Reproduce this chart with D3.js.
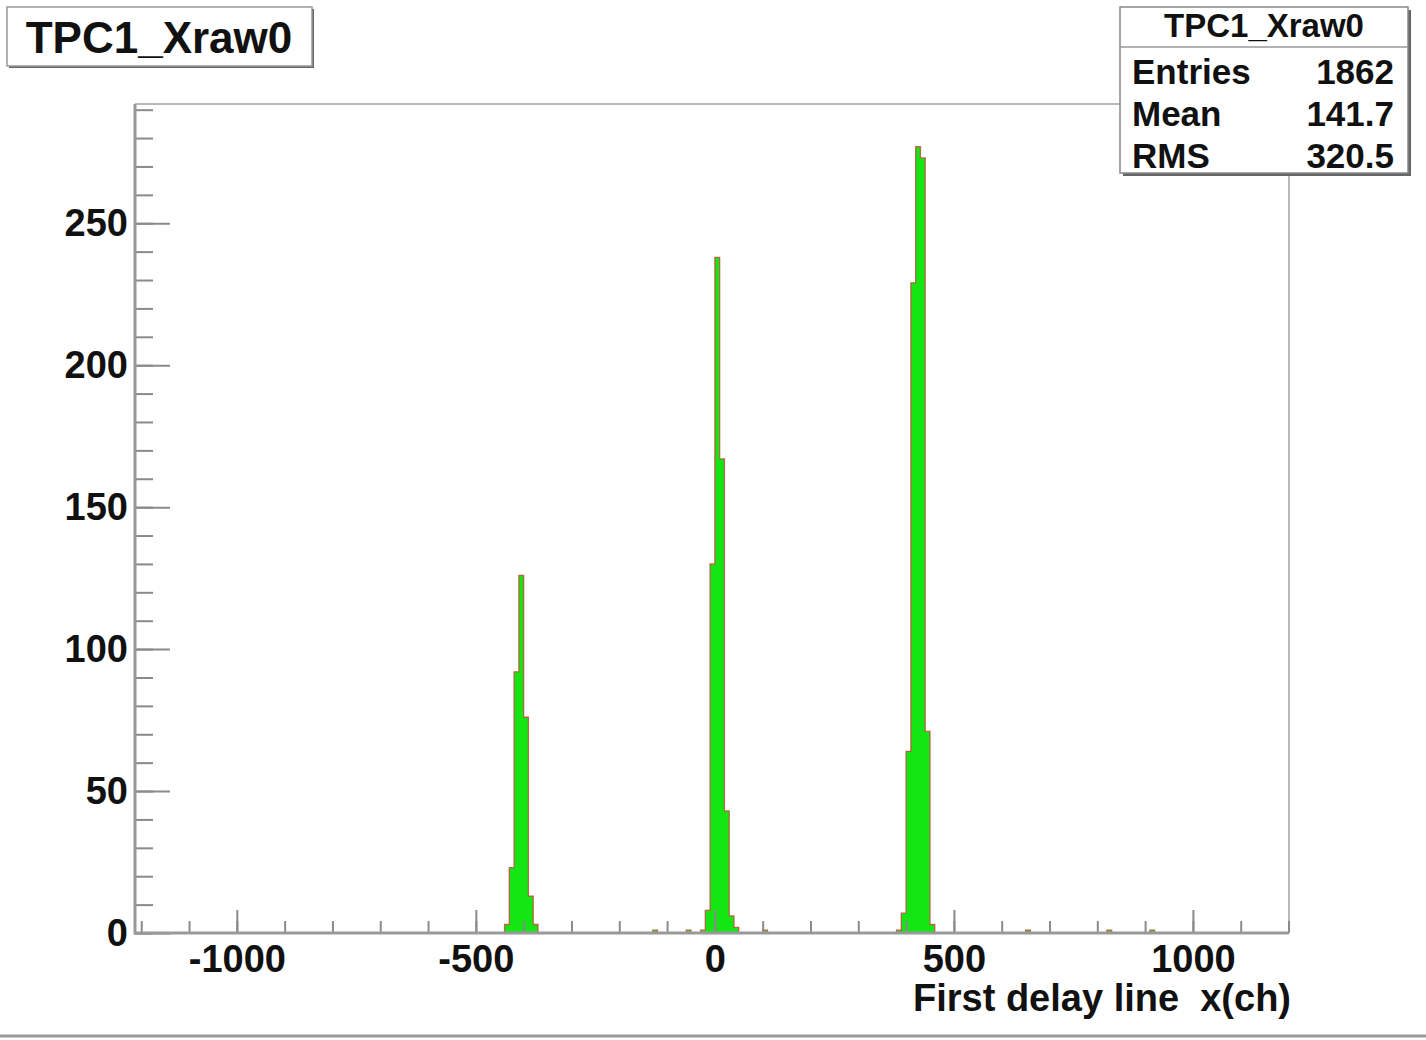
<!DOCTYPE html>
<html>
<head>
<meta charset="utf-8">
<script src="https://cdn.jsdelivr.net/npm/d3@7/dist/d3.min.js"></script>
<style>
  html, body { margin: 0; padding: 0; background: #fff; }
  svg { display: block; }
  text { font-family: "Liberation Sans", Arial, Helvetica, sans-serif; font-weight: bold; fill: #111; }
</style>
</head>
<body>
<svg id="chart" width="1426" height="1040"></svg>
<script>
// Histogram TPC1_Xraw0: fixed 10-channel bins, three delay-line peaks plus a few stray hits
const binWidth = 10;
const peak1Start = -440;
const peak1Counts = [3, 23, 92, 126, 76, 13, 3];
const peak2Start = -30;
const peak2Counts = [1, 8, 130, 238, 167, 43, 6, 2];
const peak3Start = 390;
const peak3Counts = [7, 64, 229, 277, 273, 71, 3];
const strayBinStarts = [-130, -60, 100, 380, 650, 820, 910];
const strayCounts = [1, 1, 1, 1, 1, 1, 1];

const xDomain = [-1213, 1201];
const yDomain = [0, 292];
const xMajorTicks = [-1000, -500, 0, 500, 1000];
const xMinorTicks = d3.range(-1200, 1201, 100);
const yMajorTicks = [0, 50, 100, 150, 200, 250];
const yMinorTicks = d3.range(0, 291, 10);

const histTitle = "TPC1_Xraw0";
const xTitle = "First delay line  x(ch)";
const statsLabels = ["Entries", "Mean", "RMS"];
const statsValues = ["1862", "141.7", "320.5"];

// ---- build bin list ----
function groupBins(start, counts) {
  return counts.map((c, i) => ({ x0: start + i * binWidth, x1: start + (i + 1) * binWidth, n: c }));
}
const groups = [
  groupBins(peak1Start, peak1Counts),
  groupBins(peak2Start, peak2Counts),
  groupBins(peak3Start, peak3Counts),
  ...strayBinStarts.map((s, i) => groupBins(s, [strayCounts[i]]))
];

const svg = d3.select("#chart");
const frame = { left: 135, right: 1289, top: 104, bottom: 933 };

const x = d3.scaleLinear().domain(xDomain).range([frame.left, frame.right]);
const y = d3.scaleLinear().domain(yDomain).range([frame.bottom, frame.top]);
const plainNumber = d => String(d);

svg.append("rect").attr("width", 1426).attr("height", 1040).attr("fill", "#fff");

// frame top / right
svg.append("path")
  .attr("d", `M${frame.left},${frame.top}H${frame.right}V${frame.bottom}`)
  .attr("fill", "none").attr("stroke", "#b8b8b8").attr("stroke-width", 2);

// histogram fill + outline
const stepLine = d3.line().curve(d3.curveStepAfter).x(d => d[0]).y(d => d[1]);
groups.forEach(g => {
  const last = g[g.length - 1];
  const pts = g.map(b => [x(b.x0), y(b.n)]);
  pts.push([x(last.x1), y(last.n)]);
  svg.append("path")
    .attr("d", d3.area().curve(d3.curveStepAfter).x(d => d[0]).y0(y(0)).y1(d => d[1])(pts))
    .attr("fill", "#14e614");
  svg.append("path")
    .attr("d", `M${x(g[0].x0)},${y(0)}` + stepLine(pts).replace(/^M/, "L") + `L${x(last.x1)},${y(0)}`)
    .attr("fill", "none").attr("stroke", "#c0503c").attr("stroke-width", 1.3).attr("stroke-opacity", 0.85);
});

// x axis
const xMinorAxis = d3.axisBottom(x).tickValues(xMinorTicks).tickSize(-12).tickFormat("");
const gxm = svg.append("g").attr("transform", `translate(0,${frame.bottom})`).call(xMinorAxis);
const xAxis = d3.axisBottom(x).tickValues(xMajorTicks).tickSize(-23).tickPadding(12).tickFormat(plainNumber);
const gx = svg.append("g").attr("transform", `translate(0,${frame.bottom})`).call(xAxis);
[gxm, gx].forEach(g => {
  g.select(".domain").remove();
  g.selectAll(".tick line").attr("stroke", "#8a8a8a").attr("stroke-width", 2);
});
gx.selectAll(".tick text").attr("font-size", 38).attr("fill", "#111")
  .attr("font-family", "Liberation Sans, Arial, sans-serif").attr("font-weight", "bold");

// y axis
const yMinorAxis = d3.axisLeft(y).tickValues(yMinorTicks).tickSize(-18).tickFormat("");
const gym = svg.append("g").attr("transform", `translate(${frame.left},0)`).call(yMinorAxis);
const yAxis = d3.axisLeft(y).tickValues(yMajorTicks).tickSize(-35).tickPadding(7).tickFormat(plainNumber);
const gy = svg.append("g").attr("transform", `translate(${frame.left},0)`).call(yAxis);
[gym, gy].forEach(g => {
  g.select(".domain").remove();
  g.selectAll(".tick line").attr("stroke", "#8a8a8a").attr("stroke-width", 2);
});
gy.selectAll(".tick text").attr("font-size", 38).attr("fill", "#111")
  .attr("font-family", "Liberation Sans, Arial, sans-serif").attr("font-weight", "bold");

// axis lines
svg.append("path")
  .attr("d", `M${frame.left},${frame.top}V${frame.bottom}H${frame.right}`)
  .attr("fill", "none").attr("stroke", "#999").attr("stroke-width", 3);

// axis title
svg.append("text")
  .attr("x", 1291).attr("y", 1011)
  .attr("text-anchor", "end").attr("font-size", 38)
  .style("white-space", "pre")
  .text(xTitle);

// title box
svg.append("rect").attr("x", 9).attr("y", 9).attr("width", 305).attr("height", 59).attr("fill", "#666");
svg.append("rect").attr("x", 7).attr("y", 7).attr("width", 305).attr("height", 59)
  .attr("fill", "#fff").attr("stroke", "#999").attr("stroke-width", 1.5);
svg.append("text").attr("x", 159).attr("y", 53).attr("text-anchor", "middle")
  .attr("font-size", 44).text(histTitle);

// statistics box
const sb = { x: 1120, y: 7, w: 288, h: 166 };
svg.append("rect").attr("x", sb.x + 3).attr("y", sb.y + 3).attr("width", sb.w).attr("height", sb.h).attr("fill", "#666");
svg.append("rect").attr("x", sb.x).attr("y", sb.y).attr("width", sb.w).attr("height", sb.h)
  .attr("fill", "#fff").attr("stroke", "#888").attr("stroke-width", 1.5);
svg.append("line").attr("x1", sb.x).attr("x2", sb.x + sb.w).attr("y1", 47).attr("y2", 47)
  .attr("stroke", "#999").attr("stroke-width", 1.5);
svg.append("text").attr("x", sb.x + sb.w / 2).attr("y", 37).attr("text-anchor", "middle")
  .attr("font-size", 33).text(histTitle);
statsLabels.forEach((lab, i) => {
  const by = 84 + i * 42;
  svg.append("text").attr("x", 1132).attr("y", by).attr("font-size", 35).text(lab);
  svg.append("text").attr("x", 1394).attr("y", by).attr("text-anchor", "end").attr("font-size", 35).text(statsValues[i]);
});

// canvas bottom edge
svg.append("line").attr("x1", 0).attr("x2", 1426).attr("y1", 1036).attr("y2", 1036)
  .attr("stroke", "#999").attr("stroke-width", 3);
</script>
</body>
</html>
